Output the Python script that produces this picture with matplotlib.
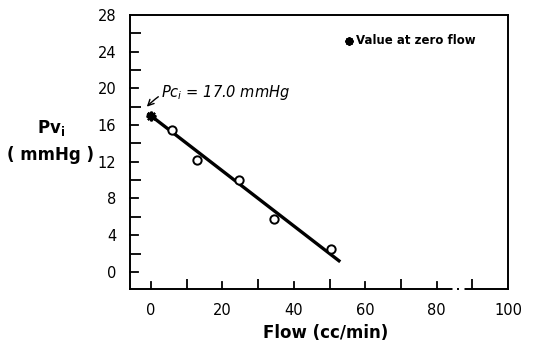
import numpy as np
import matplotlib.pyplot as plt
from matplotlib.ticker import MultipleLocator

# measured points (open circles)
flow = [5.9, 12.9, 24.6, 34.5, 50.4]
pv = [15.5, 12.2, 10.0, 5.8, 2.5]

# value at zero flow
zero_flow = [0]
zero_pv = [17.0]

# regression line end points
fit_x = [-1.0, 53.0]
fit_y = [17.3, 1.1]

xticks = [0, 20, 40, 60, 80, 100]
yticks = [0, 4, 8, 12, 16, 20, 24, 28]

fig = plt.figure(figsize=(5.33, 3.48), dpi=100)
ax = fig.add_axes([0.244, 0.170, 0.709, 0.787])

ax.plot(fit_x, fit_y, color='black', lw=2.4, solid_capstyle='butt')
ax.plot(flow, pv, 'o', ms=6, mfc='white', mec='black', mew=1.4)
ax.plot(zero_flow, zero_pv, marker=(8, 2, 0), ms=7, color='black', mew=1.6, ls='none')
ax.plot(zero_flow, zero_pv, 'o', ms=4.5, color='black')

ax.set_xlim(-5.9, 100)
ax.set_ylim(-1.85, 28)
ax.set_xticks(xticks)
ax.set_yticks(yticks)
ax.xaxis.set_minor_locator(MultipleLocator(10))
ax.yaxis.set_minor_locator(MultipleLocator(2))
ax.tick_params(axis='both', which='both', direction='in', width=1.3,
               top=False, right=False)
ax.tick_params(axis='both', which='major', length=0, labelsize=10.5, pad=10)
ax.tick_params(axis='x', which='minor', length=7)
ax.tick_params(axis='y', which='minor', length=8)
# tick marks at the labelled positions
for v in [0, 20, 40, 60, 80]:
    ax.plot([v, v], [-1.85, -1.85 + 7 / 9.18], color='black', lw=1.3, clip_on=False)
for v in [0, 4, 8, 12, 16, 20, 24]:
    ax.plot([-5.9, -5.9 + 8 / 3.57], [v, v], color='black', lw=1.3, clip_on=False)

for s in ax.spines.values():
    s.set_linewidth(1.4)

# small break in the x axis line near 85
ax.plot([84.2, 87.6], [-1.85, -1.85], color='white', lw=2.5, clip_on=False,
        solid_capstyle='butt', zorder=5)
ax.plot([85.8, 86.3], [-1.85, -1.85], color='black', lw=1.4, clip_on=False,
        solid_capstyle='butt', zorder=6)

ax.annotate('$Pc_i$ = 17.0 mmHg', xy=(-1.2, 18.0), xytext=(2.8, 19.6),
            fontsize=10.5, style='italic', va='center',
            arrowprops=dict(arrowstyle='->', lw=1.0, color='black',
                            connectionstyle='arc3,rad=0.35', shrinkA=0, shrinkB=0))

ax.plot([55.5], [25.2], marker=(8, 2, 0), ms=6, color='black', mew=1.5)
ax.plot([55.5], [25.2], 'o', ms=3.5, color='black')
ax.text(57.5, 25.2, 'Value at zero flow', fontsize=8.5, fontweight='bold', va='center')

fig.text(0.095, 0.632, 'Pv$_\\mathbf{i}$', fontsize=12, fontweight='bold', ha='center', va='center')
fig.text(0.095, 0.556, '( mmHg )', fontsize=12, fontweight='bold', ha='center', va='center')
fig.text(0.61, 0.043, 'Flow (cc/min)', fontsize=12, fontweight='bold', ha='center', va='center')

fig.savefig('out.png', dpi=100)
